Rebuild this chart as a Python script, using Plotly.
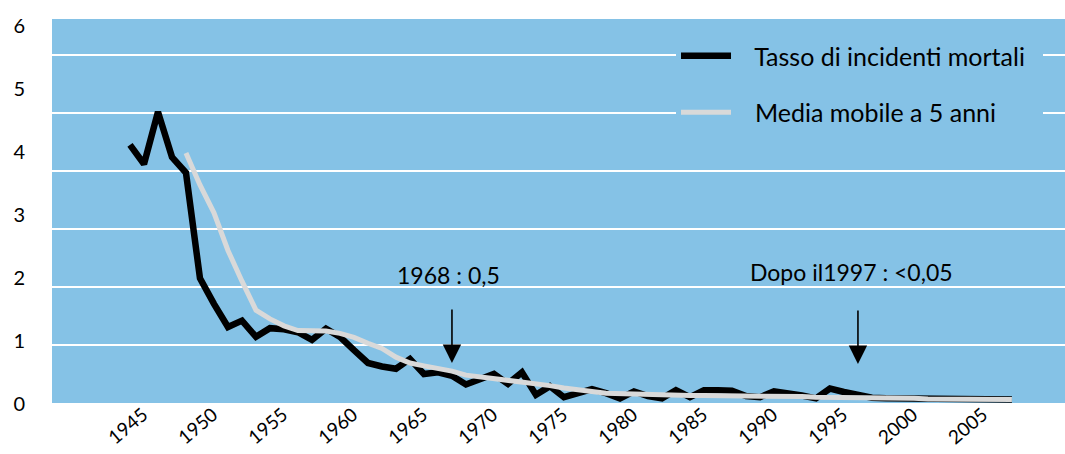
import plotly.graph_objects as go

years = [1945, 1946, 1947, 1948, 1949, 1950, 1951, 1952, 1953, 1954, 1955, 1956, 1957, 1958, 1959,
         1960, 1961, 1962, 1963, 1964, 1965, 1966, 1967, 1968, 1969, 1970, 1971, 1972, 1973, 1974,
         1975, 1976, 1977, 1978, 1979, 1980, 1981, 1982, 1983, 1984, 1985, 1986, 1987, 1988, 1989,
         1990, 1991, 1992, 1993, 1994, 1995, 1996, 1997, 1998, 1999, 2000, 2001, 2002, 2003, 2004,
         2005, 2006, 2007, 2008]

tasso = [4.45, 4.12, 5.02, 4.24, 3.97, 2.15, 1.71, 1.31, 1.42, 1.14, 1.29, 1.27, 1.22, 1.09, 1.28,
         1.14, 0.91, 0.69, 0.63, 0.59, 0.76, 0.50, 0.53, 0.47, 0.32, 0.41, 0.50, 0.33, 0.53, 0.14,
         0.29, 0.10, 0.17, 0.24, 0.17, 0.08, 0.20, 0.12, 0.08, 0.22, 0.10, 0.22, 0.22, 0.21, 0.12,
         0.10, 0.20, 0.17, 0.13, 0.08, 0.25, 0.19, 0.13, 0.09, 0.08, 0.08, 0.07, 0.07, 0.07, 0.07,
         0.06, 0.06, 0.06, 0.06]

media_years = years[4:]
media = [4.31, 3.76, 3.28, 2.63, 2.10, 1.60, 1.45, 1.33, 1.25, 1.24, 1.24, 1.20, 1.13, 1.03, 0.94,
         0.79, 0.69, 0.64, 0.60, 0.55, 0.48, 0.45, 0.42, 0.40, 0.38, 0.34, 0.30, 0.26, 0.22, 0.20,
         0.17, 0.16, 0.15, 0.14, 0.14, 0.14, 0.13, 0.13, 0.13, 0.13, 0.12, 0.12, 0.11, 0.11, 0.11,
         0.10, 0.10, 0.10, 0.09, 0.09, 0.08, 0.08, 0.08, 0.07, 0.07, 0.07, 0.07, 0.06, 0.06, 0.06]

x_ticks = [1945, 1950, 1955, 1960, 1965, 1970, 1975, 1980, 1985, 1990, 1995, 2000, 2005]
y_labels = [0, 1, 2, 3, 4, 5, 6]
grid_vals = [1, 2, 3, 4, 5, 6]

BLUE = "#85C2E6"
FONT = "Lato"
GAP = "\u2002\u00a0"

fig = go.Figure()
fig.add_trace(go.Scatter(x=years, y=tasso, mode="lines",
                         name=GAP + "Tasso di incidenti mortali" + "\u2002",
                         line=dict(color="black", width=6.5), legendgroup="a"))
fig.add_trace(go.Scatter(x=media_years, y=media, mode="lines",
                         name=GAP + "Media mobile a 5 anni",
                         line=dict(color="#D9D9D9", width=5), legendgroup="b"))
fig.add_trace(go.Scatter(x=[None], y=[None], yaxis="y2", showlegend=False, hoverinfo="skip"))

fig.add_shape(type="rect", xref="x domain", x0=0, x1=1, yref="y", y0=0, y1=6.6207,
              fillcolor=BLUE, line=dict(width=0), layer="below")

# annotations
fig.add_annotation(x=1968, y=2.21, text="1968 : 0,5", showarrow=False, xshift=-3,
                   font=dict(family=FONT, size=23, color="black"))
fig.add_annotation(x=1997, y=2.26, text="Dopo il1997 : <0,05", showarrow=False, xshift=-6,
                   font=dict(family=FONT, size=23, color="black"))
fig.add_annotation(x=1968, y=0.69, ax=1968, ay=1.638, axref="x", ayref="y", text="",
                   showarrow=True, arrowhead=2, arrowsize=2.3, arrowwidth=1.6, arrowcolor="black")
fig.add_annotation(x=1997, y=0.672, ax=1997, ay=1.62, axref="x", ayref="y", text="",
                   showarrow=True, arrowhead=2, arrowsize=2.3, arrowwidth=1.6, arrowcolor="black")

fig.update_layout(
    width=1065, height=454,
    margin=dict(l=52, r=0, t=19, b=44),
    paper_bgcolor="white", plot_bgcolor="rgba(0,0,0,0)",
    font=dict(family=FONT, color="black"),
    xaxis=dict(range=[1939.43, 2011.79], tickvals=x_ticks, tickangle=-40,
               anchor="free", position=0.028, ticklabelshift=13,
               showgrid=False, zeroline=False, showline=False, ticks="",
               tickfont=dict(family=FONT, size=19, color="black")),
    yaxis=dict(range=[-0.1207, 6.6207], tickvals=grid_vals, showticklabels=False,
               showgrid=True, gridcolor="white", gridwidth=2, zeroline=False, showline=False),
    yaxis2=dict(overlaying="y", side="left", range=[-0.0951, 6.1034], tickvals=y_labels,
                showgrid=False, zeroline=False, showline=False, ticks="",
                ticklabelstandoff=26,
                tickfont=dict(family=FONT, size=20, color="black")),
    legend=dict(x=0.616, y=0.964, xanchor="left", yanchor="top", bgcolor=BLUE,
                borderwidth=0, font=dict(family=FONT, size=25, color="black"),
                tracegroupgap=21, itemwidth=50),
    showlegend=True,
)

fig.write_html("out.html", config={"displayModeBar": False},
               post_script="document.body.style.margin='0';document.body.style.overflow='hidden';")
